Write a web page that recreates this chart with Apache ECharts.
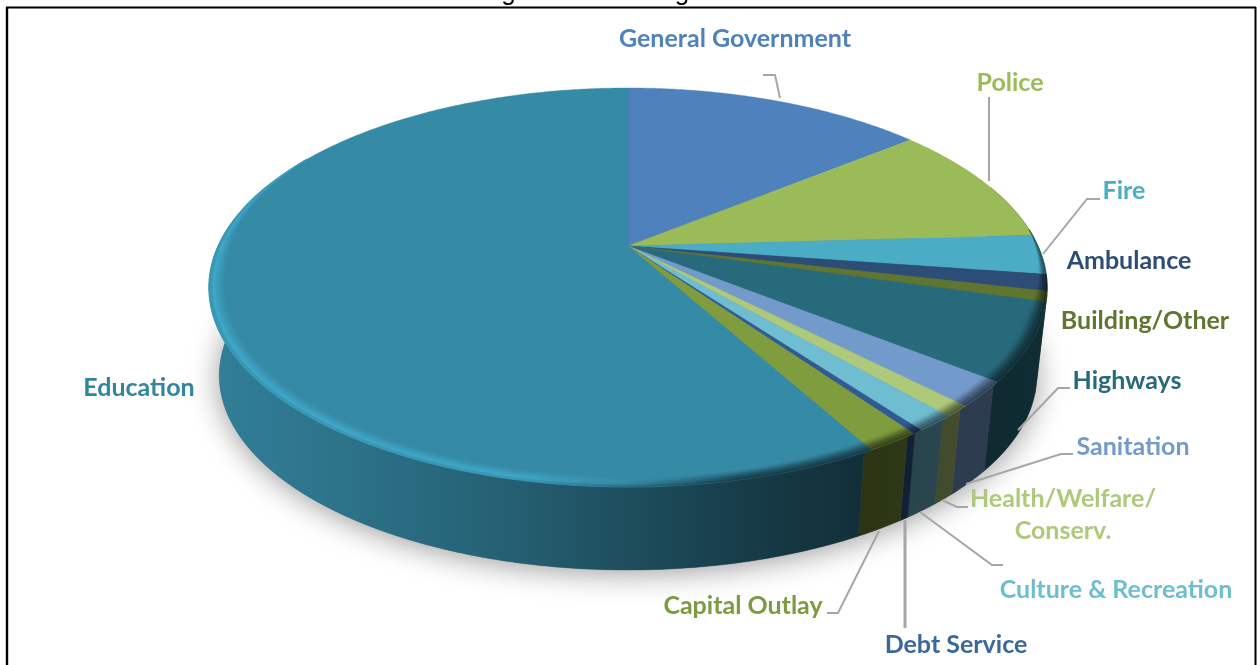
<!DOCTYPE html>
<html>
<head>
<meta charset="utf-8">
<title>Budget and Funding</title>
<script src="https://cdn.jsdelivr.net/npm/echarts@6/dist/echarts.min.js"></script>
<style>
  html, body { margin: 0; padding: 0; background: #fff; }
  #chart { width: 1257px; height: 665px; }
</style>
</head>
<body>
<div id="chart"></div>
<script>
// Share of the budget by function, percent, clockwise from twelve o'clock.
const categories = ['General Government', 'Police', 'Fire', 'Ambulance', 'Building/Other', 'Highways',
  'Sanitation', 'Health/Welfare/\nConserv.', 'Culture & Recreation', 'Debt Service', 'Capital Outlay', 'Education'];
const shares = [14.2, 9.9, 3.2, 1.3, 0.85, 6.2, 2.0, 0.9, 1.3, 0.33, 1.75, 58.07];
const faceColors = ['#4f81bd', '#9bbb59', '#4bacc6', '#2c4d75', '#5f7530', '#276a7c',
  '#729aca', '#afc97a', '#6fbdd1', '#2f5a94', '#7f9c3e', '#358aa6'];
const labelColors = ['#4f81bd', '#9bbb59', '#4bacc6', '#2c4d75', '#5f7530', '#276a7c',
  '#729aca', '#afc97a', '#6fbdd1', '#3a679c', '#7c9a3e', '#31859c'];

// Label centres and leader paths.
const labelCentres = [[735, 39], [1010, 83], [1124, 191], [1129, 261], [1145, 321], [1127, 381],
  [1133, 447], [1063, 515], [1116, 590], [956, 645], [743, 606], [139, 388]];
const leaders = [
  [[780, 98], [775, 75], [763, 75]],
  [[989, 181], [989, 97]],
  [[1043, 254], [1087, 199], [1100, 199]],
  null,
  null,
  [[1018, 430], [1058, 388], [1070, 388]],
  [[966, 484], [1061, 454], [1073, 454]],
  [[942, 500], [957, 507], [968, 507]],
  [[920, 512], [992, 565], [1003, 565]],
  [[905, 520], [905, 628]],
  [[879, 531], [838, 613], [827, 613]],
  null
];

// Projection of the unit disc onto the page, with perspective towards the viewer.
const disc = { cx: 628, cy: 246, a: 190.9, b: 410, k: 0.208, depth: 89, baseScale: 0.975, bevel: 0.036, wallShift: 1 };

function project(deg, r, scale, dy) {
  const t = deg * Math.PI / 180;
  const u = r * Math.sin(t), v = -r * Math.cos(t), d = 1 - disc.k * v;
  return [disc.cx + scale * disc.b * u / d, disc.cy + dy + scale * disc.a * v / d];
}
function arc(from, to, radius, scale, dy) {
  const pts = [], n = Math.max(2, Math.ceil((to - from) / 0.5));
  for (let i = 0; i <= n; i++) {
    const deg = from + (to - from) * i / n;
    pts.push(project(deg, typeof radius === 'function' ? radius(deg) : radius, scale, dy));
  }
  return pts;
}
function tint(hex, f) {
  const out = [1, 3, 5].map(i => Math.min(255, Math.round(parseInt(hex.substr(i, 2), 16) * f)));
  return 'rgb(' + out.join(',') + ')';
}
function gradientAcross(hex, stops) {
  const x0 = 205, x1 = 1050;
  return {
    type: 'linear', x: x0, y: 0, x2: x1, y2: 0, global: true,
    colorStops: stops.map(s => ({ offset: (s[0] - x0) / (x1 - x0), color: tint(hex, s[1]) }))
  };
}

// Running slice boundaries in degrees.
const total = shares.reduce((s, v) => s + v, 0);
const bounds = [0];
shares.forEach(v => bounds.push(bounds[bounds.length - 1] + v / total * 360));

const wallStops = [[205, 0.92], [330, 0.84], [500, 0.7], [640, 0.55], [760, 0.42], [860, 0.34], [1050, 0.42]];
// Bevel shading from the inner edge of the rounded rim to the outer edge.
const bevelBands = [
  { from: 0, to: 0.15, stops: [[205, 1.02], [560, 1.02], [640, 1.0], [1050, 0.97]] },
  { from: 0.15, to: 0.3, stops: [[205, 1.06], [560, 1.06], [640, 1.0], [740, 0.92], [1050, 0.88]] },
  { from: 0.3, to: 0.45, stops: [[205, 1.11], [540, 1.11], [640, 1.0], [740, 0.8], [1050, 0.76]] },
  { from: 0.45, to: 0.6, stops: [[205, 1.16], [530, 1.16], [630, 1.0], [740, 0.68], [1050, 0.64]] },
  { from: 0.6, to: 0.8, stops: [[205, 1.2], [520, 1.2], [630, 0.96], [740, 0.56], [1050, 0.54]] },
  { from: 0.8, to: 1, stops: [[205, 1.1], [520, 1.1], [630, 0.8], [740, 0.46], [1050, 0.45]] }
];

function clipped(i, lo, hi) {
  const from = Math.max(bounds[i], lo), to = Math.min(bounds[i + 1], hi);
  return to > from ? [from, to] : null;
}
function polygon(points, fill, z2) {
  return { type: 'polygon', z2, shape: { points }, style: { fill, stroke: fill, lineWidth: 0.4 }, silent: true };
}
// The rounded rim narrows to nothing towards the back of the disc.
function bevelTaper(deg) {
  if (deg < 110) return Math.max(0, (deg - 85) / 25);
  if (deg > 265) return Math.max(0, (300 - deg) / 35);
  return 1;
}

function drawGroundShadow(params) {
  if (params.dataIndex !== 0) return { type: 'group', children: [] };
  return {
    type: 'polygon', silent: true,
    shape: { points: arc(0, 360, 1, disc.baseScale, disc.depth) },
    style: { fill: '#777', shadowBlur: 30, shadowColor: 'rgba(0,0,0,0.4)', shadowOffsetY: 3 }
  };
}
function drawWall(params) {
  const i = params.dataIndex, range = clipped(i, 70, 290);
  if (!range) return { type: 'group', children: [] };
  // Wall seams sit slightly clockwise of the face edges, where the rim rounds over.
  const from = range[0] + disc.wallShift, to = i === shares.length - 1 ? range[1] : range[1] + disc.wallShift;
  const top = arc(from, to, 1, 1, 0);
  const base = arc(from, to, 1, disc.baseScale, disc.depth).reverse();
  return polygon(top.concat(base), gradientAcross(faceColors[i], wallStops), 1);
}
function drawFace(params) {
  const i = params.dataIndex;
  const pts = [project(0, 0, 1, 0)].concat(arc(bounds[i], bounds[i + 1], 1, 1, 0));
  return polygon(pts, faceColors[i], 2);
}
function drawBevel(params) {
  const i = params.dataIndex, range = clipped(i, 85, 300);
  if (!range) return { type: 'group', children: [] };
  return {
    type: 'group',
    children: bevelBands.map((band, n) => {
      const inner = deg => 1 - disc.bevel * bevelTaper(deg) * (1 - band.from);
      const outer = deg => 1 - disc.bevel * bevelTaper(deg) * (1 - band.to);
      const pts = arc(range[0], range[1], outer, 1, 0).concat(arc(range[0], range[1], inner, 1, 0).reverse());
      return polygon(pts, gradientAcross(faceColors[i], band.stops), 3 + n);
    })
  };
}
function drawLabel(params) {
  const i = params.dataIndex, children = [];
  if (leaders[i]) {
    children.push({
      type: 'polyline', silent: true, shape: { points: leaders[i] },
      style: { fill: null, stroke: '#a6a6a6', lineWidth: i === 9 ? 3 : 2 }
    });
  }
  children.push({
    type: 'text', silent: true,
    style: {
      x: labelCentres[i][0], y: labelCentres[i][1], text: categories[i],
      fill: labelColors[i], font: 'bold 25px Lato, "Noto Sans", sans-serif',
      align: 'center', verticalAlign: 'middle', lineHeight: 32
    }
  });
  return { type: 'group', children };
}

const slices = shares.map((value, i) => ({ name: categories[i], value }));
const layer = (renderItem, z) => ({
  type: 'custom', coordinateSystem: 'none', data: slices, renderItem, z,
  animation: false, silent: true, clip: false
});

const chart = echarts.init(document.getElementById('chart'), null, { renderer: 'canvas' });
chart.setOption({
  backgroundColor: '#ffffff',
  animation: false,
  tooltip: { show: false },
  graphic: [
    { type: 'line', silent: true, z: 20, shape: { x1: 6, y1: 7.5, x2: 1256, y2: 7.5 }, style: { stroke: '#000', lineWidth: 2 } },
    { type: 'line', silent: true, z: 20, shape: { x1: 7, y1: 7, x2: 7, y2: 665 }, style: { stroke: '#000', lineWidth: 2.4 } },
    { type: 'line', silent: true, z: 20, shape: { x1: 1255.5, y1: 7, x2: 1255.5, y2: 665 }, style: { stroke: '#000', lineWidth: 2 } },
    { type: 'text', silent: true, z: 19, style: { x: 455, y: 6, text: 'Budget and Funding', fill: '#000',
        font: '26px "Liberation Sans", Arial, sans-serif', align: 'left', verticalAlign: 'bottom' } }
  ],
  series: [
    layer(drawGroundShadow, 1),
    layer(drawWall, 2),
    layer(drawFace, 3),
    layer(drawBevel, 4),
    layer(drawLabel, 5)
  ]
});
</script>
</body>
</html>
